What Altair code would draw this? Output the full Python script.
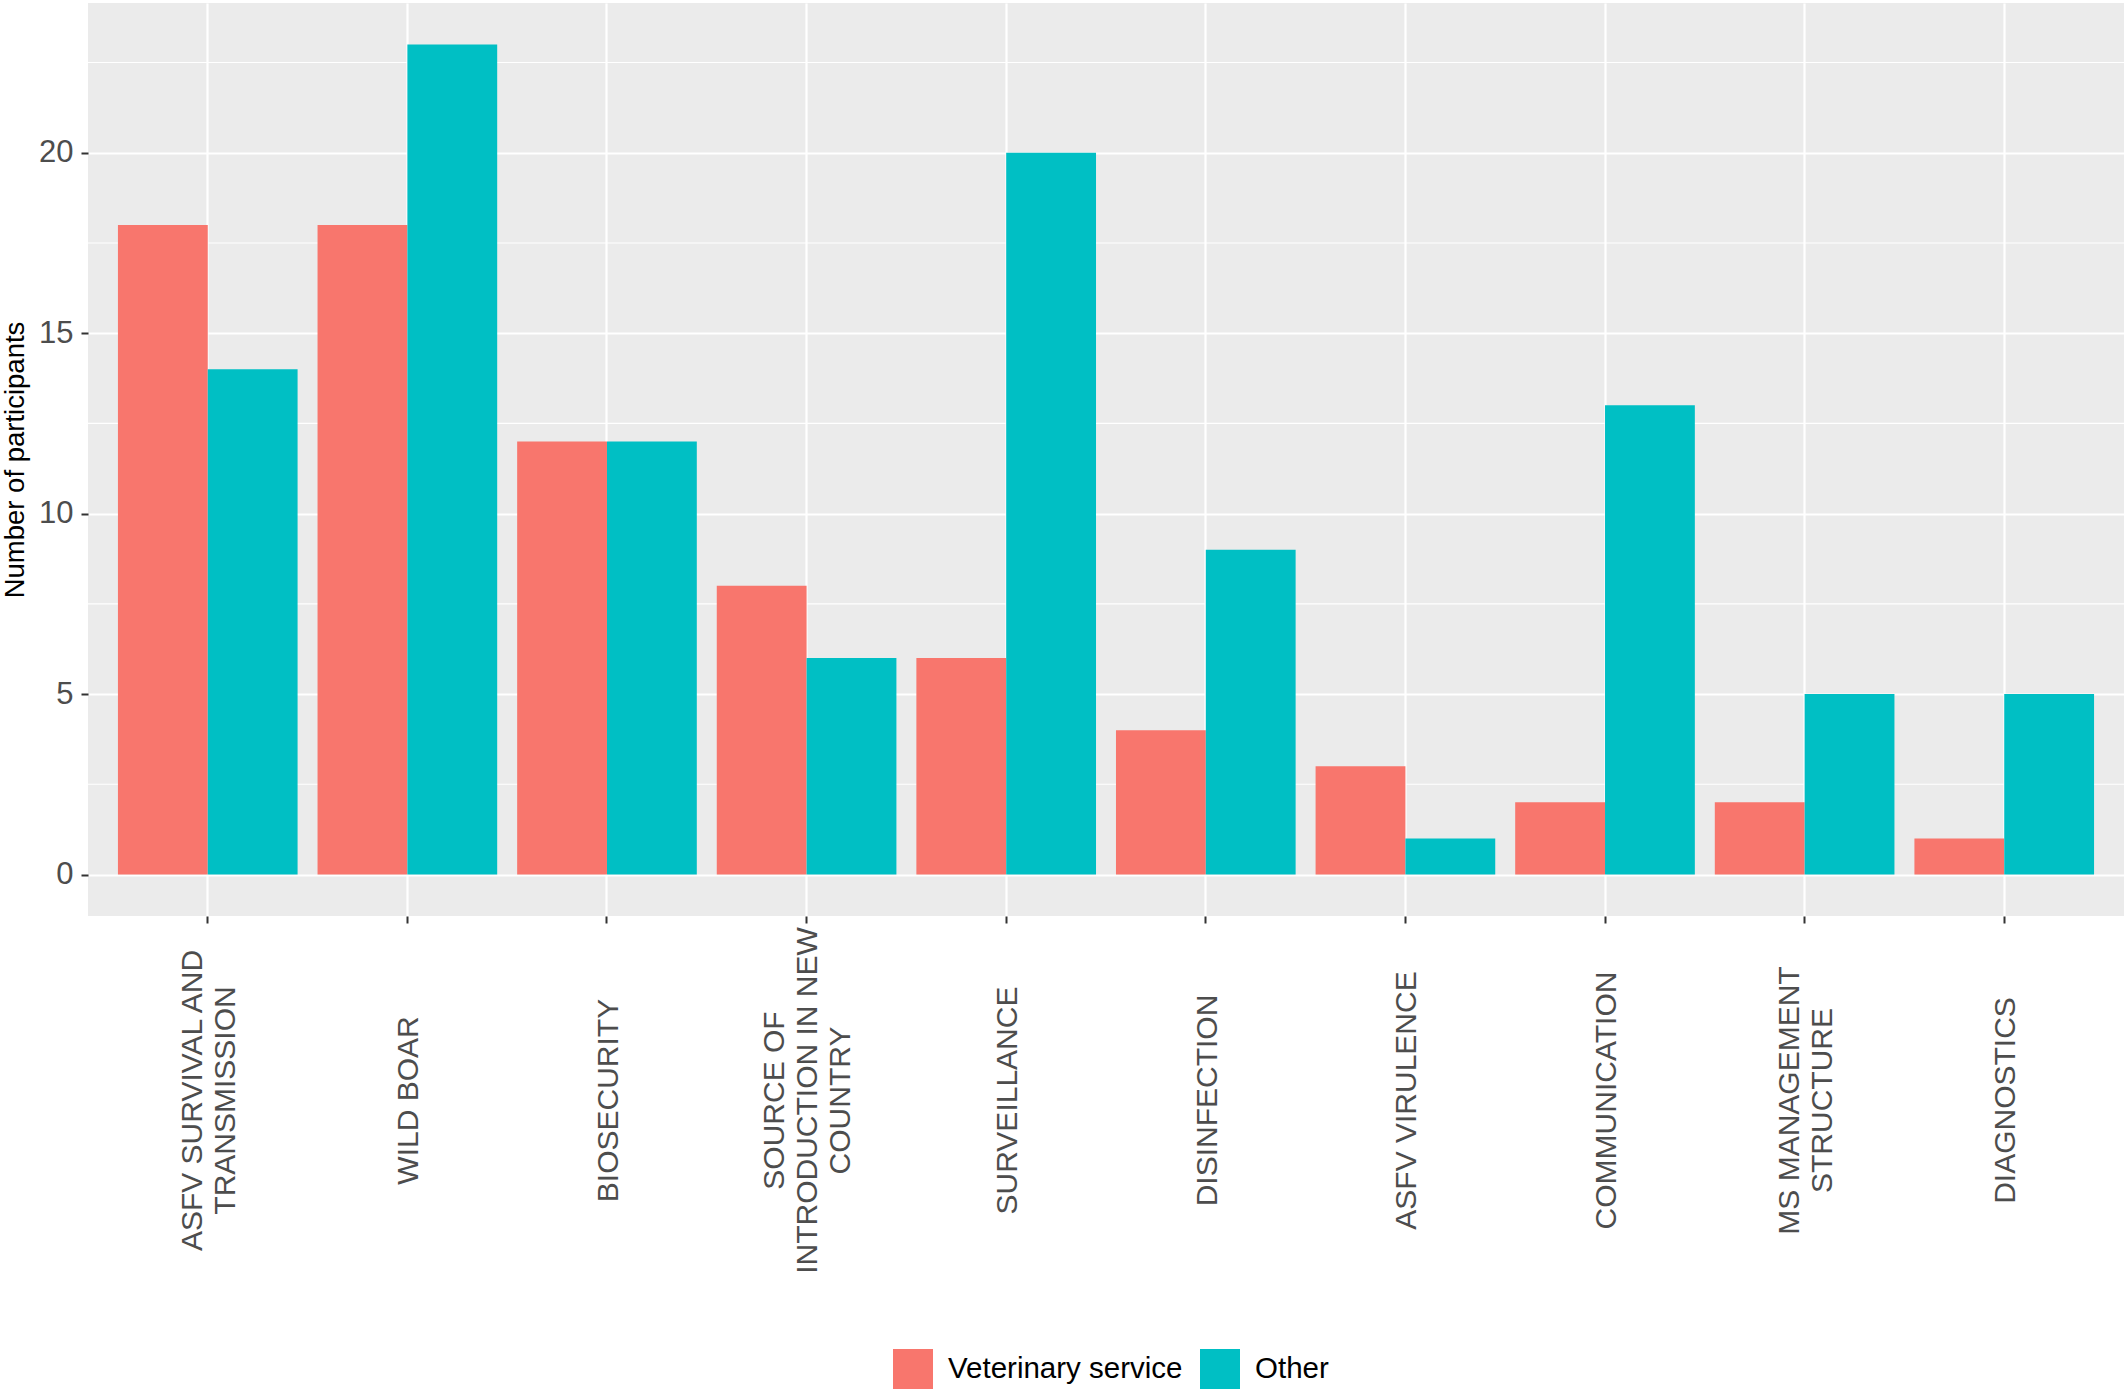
import altair as alt
import pandas as pd

categories = [
    "ASFV SURVIVAL AND\nTRANSMISSION",
    "WILD BOAR",
    "BIOSECURITY",
    "SOURCE OF\nINTRODUCTION IN NEW\nCOUNTRY",
    "SURVEILLANCE",
    "DISINFECTION",
    "ASFV VIRULENCE",
    "COMMUNICATION",
    "MS MANAGEMENT\nSTRUCTURE",
    "DIAGNOSTICS",
]
vet_values = [18, 18, 12, 8, 6, 4, 3, 2, 2, 1]
other_values = [14, 23, 12, 6, 20, 9, 1, 13, 5, 5]
groups = ["Veterinary service", "Other"]
colors = ["#F8766D", "#00BFC4"]
y_ticks = [0, 5, 10, 15, 20]
y_minor = [2.5, 7.5, 12.5, 17.5, 22.5]
y_domain = [-1.15, 24.15]

rows = []
for c, v, o in zip(categories, vet_values, other_values):
    rows.append({"topic": c, "group": groups[0], "n": v})
    rows.append({"topic": c, "group": groups[1], "n": o})
df = pd.DataFrame(rows)
minor_df = pd.DataFrame({"y": y_minor})

yscale = alt.Scale(domain=y_domain, nice=False, zero=False)

minor = alt.Chart(minor_df).mark_rule(color="white", strokeWidth=1.1).encode(
    y=alt.Y("y:Q", scale=yscale)
)

label_offset = {
    "condition": [
        {"test": "length(split(datum.value, '\\n')) == 3", "value": -32},
        {"test": "length(split(datum.value, '\\n')) == 2", "value": -15},
    ],
    "value": 2,
}

bars = alt.Chart(df).mark_bar(strokeWidth=0).encode(
    x=alt.X(
        "topic:N",
        sort=categories,
        scale=alt.Scale(paddingInner=0.1, paddingOuter=0.15),
        axis=alt.Axis(
            title=None,
            labelAngle=-90,
            labelAlign="center",
            labelBaseline="middle",
            labelPadding=177,
            labelOffset=label_offset,
            labelFontSize=30,
            labelLineHeight=33,
            labelColor="#4D4D4D",
            labelFont="Liberation Sans",
            labelExpr="split(datum.label, '\\n')",
            labelOverlap=False,
            labelBound=False,
            labelLimit=0,
            tickSize=7,
            tickWidth=2,
            tickColor="#333333",
            domain=False,
            grid=True,
            gridColor="white",
            gridWidth=2.2,
            bandPosition=0.5,
        ),
    ),
    xOffset=alt.XOffset(
        "group:N",
        sort=groups,
        scale=alt.Scale(paddingInner=0, paddingOuter=0),
    ),
    y=alt.Y(
        "n:Q",
        scale=yscale,
        axis=alt.Axis(
            title="Number of participants",
            values=y_ticks,
            titleFontSize=27.5,
            titleFont="Liberation Sans",
            titleFontWeight="normal",
            titleColor="black",
            titleX=-59,
            titleY=456.5,
            titleAngle=270,
            titleAlign="center",
            titleBaseline="bottom",
            labelFontSize=31,
            labelFont="Liberation Sans",
            labelColor="#4D4D4D",
            labelPadding=8,
            tickSize=7,
            tickWidth=2,
            tickColor="#333333",
            domain=False,
            grid=True,
            gridColor="white",
            gridWidth=2.2,
        ),
    ),
    color=alt.Color(
        "group:N",
        sort=groups,
        scale=alt.Scale(domain=groups, range=colors),
        legend=alt.Legend(
            title=None,
            orient="none",
            legendX=805,
            legendY=1346,
            direction="horizontal",
            symbolType="square",
            symbolSize=1600,
            symbolStrokeWidth=0,
            labelFontSize=29.5,
            labelFont="Liberation Sans",
            labelColor="black",
            labelOffset=15,
            labelLimit=0,
            columnPadding=17,
            padding=0,
        ),
    ),
)

chart = alt.layer(minor, bars).properties(
    width=2036,
    height=913,
    autosize=alt.AutoSizeParams(type="none"),
    padding={"left": 88, "top": 3, "right": 4, "bottom": 473},
    background="white",
).configure_view(
    fill="#EBEBEB",
    stroke=None,
)

chart.save("out.html", embed_options={"renderer": "svg", "actions": False})
